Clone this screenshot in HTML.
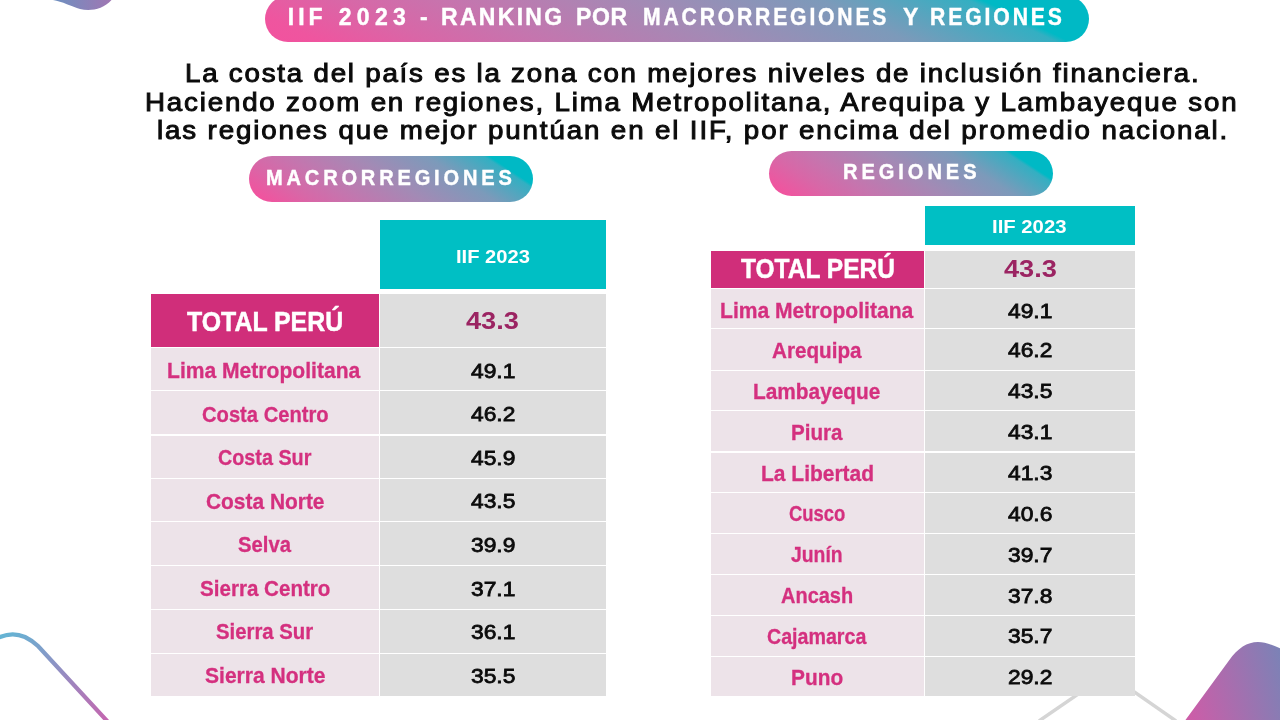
<!DOCTYPE html>
<html lang="es"><head><meta charset="utf-8"><title>IIF 2023 - Ranking por macrorregiones y regiones</title>
<style>
html,body{margin:0;padding:0;background:#fff}
body{width:1280px;height:720px;position:relative;overflow:hidden;font-family:"Liberation Sans", sans-serif}
.t{position:absolute;white-space:nowrap;line-height:1;transform-origin:0 0;display:block}
.b{position:absolute}
.pill{position:absolute;border-radius:23px;background:linear-gradient(33.4deg,#F2529E 0%,#EF559F 6%,#D867A7 18%,#C575AE 30%,#A38AB5 50%,#7C9ABA 70%,#33AFC2 86%,#00B9C5 87.5%,#00B9C5 100%)}
svg{position:absolute;left:0;top:0}
</style></head><body>
<svg width="1280" height="720" viewBox="0 0 1280 720">
<defs>
<linearGradient id="g1" x1="0" y1="0" x2="1" y2="0"><stop offset="0" stop-color="#6D90C0"/><stop offset="1" stop-color="#A077B3"/></linearGradient>
<linearGradient id="g2" x1="0" y1="0" x2="1" y2="1"><stop offset="0" stop-color="#62B6D5"/><stop offset="1" stop-color="#C565AF"/></linearGradient>
<linearGradient id="g3" gradientUnits="userSpaceOnUse" x1="1190" y1="716" x2="1290" y2="688"><stop offset="0" stop-color="#CC5DA8"/><stop offset="1" stop-color="#7C82B6"/></linearGradient>
</defs>
<path d="M53,0 C62,1.5 72,6.5 80,9 C90,11.5 103,9.5 111.5,0 Z" fill="url(#g1)"/>
<path d="M-2,638 C6,634 16,633 25,637 C31,640 34,642 38,646 L108,722" fill="none" stroke="url(#g2)" stroke-width="4.2" stroke-linecap="round"/>
<path d="M1039,721 L1108,673.5 L1176,721" fill="none" stroke="#D5D5D5" stroke-width="3.4"/>
<path d="M1184,722 L1229,660.5 C1238,648 1247,642 1258,642 C1265,642 1272,645 1282,649 L1282,722 Z" fill="url(#g3)"/>
</svg>
<div class="pill" style="left:265px;top:-4.5px;width:823.75px;height:46px;background:linear-gradient(25.4deg,#F2529E 0%,#EF559F 6%,#D867A7 18%,#C575AE 30%,#A38AB5 50%,#7C9ABA 70%,#33AFC2 86%,#00B9C5 87.5%,#00B9C5 100%)"></div>
<div class="pill" style="left:249px;top:156.25px;width:284px;height:45.75px"></div>
<div class="pill" style="left:769.25px;top:150.75px;width:283.75px;height:45.5px"></div>
<div class="b" style="left:380px;top:220.3px;width:225.60px;height:68.70px;background:#00BFC4"></div>
<div class="b" style="left:151px;top:294.25px;width:228.20px;height:52.55px;background:#D02E7A"></div>
<div class="b" style="left:380px;top:294.25px;width:225.60px;height:52.55px;background:#DEDEDE"></div>
<div class="b" style="left:151px;top:347.8px;width:228.20px;height:42.10px;background:#EDE3E9"></div>
<div class="b" style="left:380px;top:347.8px;width:225.60px;height:42.10px;background:#DEDEDE"></div>
<div class="b" style="left:151px;top:390.9px;width:228.20px;height:43.60px;background:#EDE3E9"></div>
<div class="b" style="left:380px;top:390.9px;width:225.60px;height:43.60px;background:#DEDEDE"></div>
<div class="b" style="left:151px;top:435.5px;width:228.20px;height:42.30px;background:#EDE3E9"></div>
<div class="b" style="left:380px;top:435.5px;width:225.60px;height:42.30px;background:#DEDEDE"></div>
<div class="b" style="left:151px;top:478.8px;width:228.20px;height:42.50px;background:#EDE3E9"></div>
<div class="b" style="left:380px;top:478.8px;width:225.60px;height:42.50px;background:#DEDEDE"></div>
<div class="b" style="left:151px;top:522.3px;width:228.20px;height:42.60px;background:#EDE3E9"></div>
<div class="b" style="left:380px;top:522.3px;width:225.60px;height:42.60px;background:#DEDEDE"></div>
<div class="b" style="left:151px;top:565.9px;width:228.20px;height:43.30px;background:#EDE3E9"></div>
<div class="b" style="left:380px;top:565.9px;width:225.60px;height:43.30px;background:#DEDEDE"></div>
<div class="b" style="left:151px;top:610.2px;width:228.20px;height:42.60px;background:#EDE3E9"></div>
<div class="b" style="left:380px;top:610.2px;width:225.60px;height:42.60px;background:#DEDEDE"></div>
<div class="b" style="left:151px;top:653.8px;width:228.20px;height:42.30px;background:#EDE3E9"></div>
<div class="b" style="left:380px;top:653.8px;width:225.60px;height:42.30px;background:#DEDEDE"></div>
<div class="b" style="left:925px;top:206.25px;width:210.00px;height:38.35px;background:#00BFC4"></div>
<div class="b" style="left:710.5px;top:250.7px;width:213.40px;height:37.20px;background:#D02E7A"></div>
<div class="b" style="left:925px;top:250.7px;width:210.00px;height:37.20px;background:#DEDEDE"></div>
<div class="b" style="left:710.5px;top:288.9px;width:213.40px;height:39.30px;background:#EDE3E9"></div>
<div class="b" style="left:925px;top:288.9px;width:210.00px;height:39.30px;background:#DEDEDE"></div>
<div class="b" style="left:710.5px;top:329.2px;width:213.40px;height:40.70px;background:#EDE3E9"></div>
<div class="b" style="left:925px;top:329.2px;width:210.00px;height:40.70px;background:#DEDEDE"></div>
<div class="b" style="left:710.5px;top:370.9px;width:213.40px;height:39.40px;background:#EDE3E9"></div>
<div class="b" style="left:925px;top:370.9px;width:210.00px;height:39.40px;background:#DEDEDE"></div>
<div class="b" style="left:710.5px;top:411.3px;width:213.40px;height:40.20px;background:#EDE3E9"></div>
<div class="b" style="left:925px;top:411.3px;width:210.00px;height:40.20px;background:#DEDEDE"></div>
<div class="b" style="left:710.5px;top:452.5px;width:213.40px;height:39.50px;background:#EDE3E9"></div>
<div class="b" style="left:925px;top:452.5px;width:210.00px;height:39.50px;background:#DEDEDE"></div>
<div class="b" style="left:710.5px;top:493.0px;width:213.40px;height:39.50px;background:#EDE3E9"></div>
<div class="b" style="left:925px;top:493.0px;width:210.00px;height:39.50px;background:#DEDEDE"></div>
<div class="b" style="left:710.5px;top:533.5px;width:213.40px;height:40.50px;background:#EDE3E9"></div>
<div class="b" style="left:925px;top:533.5px;width:210.00px;height:40.50px;background:#DEDEDE"></div>
<div class="b" style="left:710.5px;top:575.0px;width:213.40px;height:39.50px;background:#EDE3E9"></div>
<div class="b" style="left:925px;top:575.0px;width:210.00px;height:39.50px;background:#DEDEDE"></div>
<div class="b" style="left:710.5px;top:615.5px;width:213.40px;height:40.20px;background:#EDE3E9"></div>
<div class="b" style="left:925px;top:615.5px;width:210.00px;height:40.20px;background:#DEDEDE"></div>
<div class="b" style="left:710.5px;top:656.7px;width:213.40px;height:39.10px;background:#EDE3E9"></div>
<div class="b" style="left:925px;top:656.7px;width:210.00px;height:39.10px;background:#DEDEDE"></div>
<span class="t" style="left:287.75px;top:5.73px;font-size:23px;font-weight:700;color:#fff;transform:scaleX(1.0000);letter-spacing:3.985px;-webkit-text-stroke:0.4px #fff;">IIF</span>
<span class="t" style="left:338.75px;top:5.73px;font-size:23px;font-weight:700;color:#fff;transform:scaleX(1.0000);letter-spacing:5.292px;-webkit-text-stroke:0.4px #fff;">2023</span>
<span class="t" style="left:420.00px;top:5.73px;font-size:23px;font-weight:700;color:#fff;transform:scaleX(1.0000);-webkit-text-stroke:0.4px #fff;">-</span>
<span class="t" style="left:441.00px;top:5.73px;font-size:23px;font-weight:700;color:#fff;transform:scaleX(1.0000);letter-spacing:2.302px;-webkit-text-stroke:0.4px #fff;">RANKING</span>
<span class="t" style="left:576.00px;top:5.73px;font-size:23px;font-weight:700;color:#fff;transform:scaleX(1.0000);letter-spacing:0.635px;-webkit-text-stroke:0.4px #fff;">POR</span>
<span class="t" style="left:642.83px;top:5.73px;font-size:23px;font-weight:700;color:#fff;transform:scaleX(0.9200);letter-spacing:3.058px;-webkit-text-stroke:0.4px #fff;">MACRORREGIONES</span>
<span class="t" style="left:903.12px;top:5.73px;font-size:23px;font-weight:700;color:#fff;transform:scaleX(1.0000);-webkit-text-stroke:0.4px #fff;">Y</span>
<span class="t" style="left:930.33px;top:5.73px;font-size:23px;font-weight:700;color:#fff;transform:scaleX(0.9200);letter-spacing:3.150px;-webkit-text-stroke:0.4px #fff;">REGIONES</span>
<span class="t" style="left:184.80px;top:61.12px;font-size:25.2px;font-weight:400;color:#0b0b0b;transform:scaleX(1.1000);letter-spacing:1.617px;-webkit-text-stroke:0.95px #0b0b0b;">La costa del país es la zona con mejores niveles de inclusión financiera.</span>
<span class="t" style="left:144.80px;top:89.87px;font-size:25.2px;font-weight:400;color:#0b0b0b;transform:scaleX(1.1000);letter-spacing:1.651px;-webkit-text-stroke:0.95px #0b0b0b;">Haciendo zoom en regiones, Lima Metropolitana, Arequipa y Lambayeque son</span>
<span class="t" style="left:156.90px;top:118.12px;font-size:25.2px;font-weight:400;color:#0b0b0b;transform:scaleX(1.1000);letter-spacing:1.701px;-webkit-text-stroke:0.95px #0b0b0b;">las regiones que mejor puntúan en el IIF, por encima del promedio nacional.</span>
<span class="t" style="left:266.12px;top:166.20px;font-size:22.8px;font-weight:700;color:#fff;transform:scaleX(0.8800);letter-spacing:4.340px;-webkit-text-stroke:0.45px #fff;">MACRORREGIONES</span>
<span class="t" style="left:842.87px;top:160.40px;font-size:22.8px;font-weight:700;color:#fff;transform:scaleX(0.8800);letter-spacing:4.490px;-webkit-text-stroke:0.45px #fff;">REGIONES</span>
<span class="t" style="left:455.67px;top:247.96px;font-size:18.6px;font-weight:700;color:#fff;transform:scaleX(1.0841);">IIF 2023</span>
<span class="t" style="left:186.70px;top:306.54px;font-size:28.3px;font-weight:700;color:#fff;transform:scaleX(0.8787);-webkit-text-stroke:0.5px #fff;">TOTAL PERÚ</span>
<span class="t" style="left:466.25px;top:309.13px;font-size:24px;font-weight:700;color:#9B2462;transform:scaleX(1.1324);">43.3</span>
<span class="t" style="left:992.16px;top:218.26px;font-size:18.6px;font-weight:700;color:#fff;transform:scaleX(1.0915);">IIF 2023</span>
<span class="t" style="left:741.25px;top:255.20px;font-size:28px;font-weight:700;color:#fff;transform:scaleX(0.8753);-webkit-text-stroke:0.5px #fff;">TOTAL PERÚ</span>
<span class="t" style="left:1003.75px;top:257.48px;font-size:24px;font-weight:700;color:#9B2462;transform:scaleX(1.1324);">43.3</span>
<span class="t" style="left:167.34px;top:360.08px;font-size:22px;font-weight:700;color:#D4307F;transform:scaleX(0.9581);-webkit-text-stroke:0.3px #D4307F;">Lima Metropolitana</span>
<span class="t" style="left:470.80px;top:359.82px;font-size:21px;font-weight:400;color:#0b0b0b;transform:scaleX(1.0850);-webkit-text-stroke:0.8px #0b0b0b;">49.1</span>
<span class="t" style="left:201.68px;top:403.62px;font-size:22px;font-weight:700;color:#D4307F;transform:scaleX(0.9170);-webkit-text-stroke:0.3px #D4307F;">Costa Centro</span>
<span class="t" style="left:470.80px;top:403.36px;font-size:21px;font-weight:400;color:#0b0b0b;transform:scaleX(1.0850);-webkit-text-stroke:0.8px #0b0b0b;">46.2</span>
<span class="t" style="left:217.93px;top:447.16px;font-size:22px;font-weight:700;color:#D4307F;transform:scaleX(0.8984);-webkit-text-stroke:0.3px #D4307F;">Costa Sur</span>
<span class="t" style="left:470.80px;top:446.90px;font-size:21px;font-weight:400;color:#0b0b0b;transform:scaleX(1.0850);-webkit-text-stroke:0.8px #0b0b0b;">45.9</span>
<span class="t" style="left:205.68px;top:490.70px;font-size:22px;font-weight:700;color:#D4307F;transform:scaleX(0.9502);-webkit-text-stroke:0.3px #D4307F;">Costa Norte</span>
<span class="t" style="left:470.80px;top:490.44px;font-size:21px;font-weight:400;color:#0b0b0b;transform:scaleX(1.0850);-webkit-text-stroke:0.8px #0b0b0b;">43.5</span>
<span class="t" style="left:238.00px;top:534.24px;font-size:22px;font-weight:700;color:#D4307F;transform:scaleX(0.9201);-webkit-text-stroke:0.3px #D4307F;">Selva</span>
<span class="t" style="left:470.80px;top:533.98px;font-size:21px;font-weight:400;color:#0b0b0b;transform:scaleX(1.0850);-webkit-text-stroke:0.8px #0b0b0b;">39.9</span>
<span class="t" style="left:199.80px;top:577.78px;font-size:22px;font-weight:700;color:#D4307F;transform:scaleX(0.9356);-webkit-text-stroke:0.3px #D4307F;">Sierra Centro</span>
<span class="t" style="left:470.80px;top:577.52px;font-size:21px;font-weight:400;color:#0b0b0b;transform:scaleX(1.0850);-webkit-text-stroke:0.8px #0b0b0b;">37.1</span>
<span class="t" style="left:216.05px;top:621.32px;font-size:22px;font-weight:700;color:#D4307F;transform:scaleX(0.9233);-webkit-text-stroke:0.3px #D4307F;">Sierra Sur</span>
<span class="t" style="left:470.80px;top:621.06px;font-size:21px;font-weight:400;color:#0b0b0b;transform:scaleX(1.0850);-webkit-text-stroke:0.8px #0b0b0b;">36.1</span>
<span class="t" style="left:204.65px;top:664.86px;font-size:22px;font-weight:700;color:#D4307F;transform:scaleX(0.9570);-webkit-text-stroke:0.3px #D4307F;">Sierra Norte</span>
<span class="t" style="left:470.80px;top:664.60px;font-size:21px;font-weight:400;color:#0b0b0b;transform:scaleX(1.0850);-webkit-text-stroke:0.8px #0b0b0b;">35.5</span>
<span class="t" style="left:719.64px;top:300.08px;font-size:22px;font-weight:700;color:#D4307F;transform:scaleX(0.9581);-webkit-text-stroke:0.3px #D4307F;">Lima Metropolitana</span>
<span class="t" style="left:1008.20px;top:299.72px;font-size:21px;font-weight:400;color:#0b0b0b;transform:scaleX(1.0850);-webkit-text-stroke:0.8px #0b0b0b;">49.1</span>
<span class="t" style="left:771.98px;top:339.68px;font-size:22px;font-weight:700;color:#D4307F;transform:scaleX(0.9390);-webkit-text-stroke:0.3px #D4307F;">Arequipa</span>
<span class="t" style="left:1008.20px;top:339.32px;font-size:21px;font-weight:400;color:#0b0b0b;transform:scaleX(1.0850);-webkit-text-stroke:0.8px #0b0b0b;">46.2</span>
<span class="t" style="left:753.03px;top:380.83px;font-size:22px;font-weight:700;color:#D4307F;transform:scaleX(0.9474);-webkit-text-stroke:0.3px #D4307F;">Lambayeque</span>
<span class="t" style="left:1008.20px;top:380.47px;font-size:21px;font-weight:400;color:#0b0b0b;transform:scaleX(1.0850);-webkit-text-stroke:0.8px #0b0b0b;">43.5</span>
<span class="t" style="left:790.54px;top:421.58px;font-size:22px;font-weight:700;color:#D4307F;transform:scaleX(0.9355);-webkit-text-stroke:0.3px #D4307F;">Piura</span>
<span class="t" style="left:1008.20px;top:421.22px;font-size:21px;font-weight:400;color:#0b0b0b;transform:scaleX(1.0850);-webkit-text-stroke:0.8px #0b0b0b;">43.1</span>
<span class="t" style="left:760.77px;top:462.58px;font-size:22px;font-weight:700;color:#D4307F;transform:scaleX(0.9536);-webkit-text-stroke:0.3px #D4307F;">La Libertad</span>
<span class="t" style="left:1008.20px;top:462.22px;font-size:21px;font-weight:400;color:#0b0b0b;transform:scaleX(1.0850);-webkit-text-stroke:0.8px #0b0b0b;">41.3</span>
<span class="t" style="left:789.10px;top:502.98px;font-size:22px;font-weight:700;color:#D4307F;transform:scaleX(0.8384);-webkit-text-stroke:0.3px #D4307F;">Cusco</span>
<span class="t" style="left:1008.20px;top:502.62px;font-size:21px;font-weight:400;color:#0b0b0b;transform:scaleX(1.0850);-webkit-text-stroke:0.8px #0b0b0b;">40.6</span>
<span class="t" style="left:791.48px;top:544.18px;font-size:22px;font-weight:700;color:#D4307F;transform:scaleX(0.8802);-webkit-text-stroke:0.3px #D4307F;">Junín</span>
<span class="t" style="left:1008.20px;top:543.82px;font-size:21px;font-weight:400;color:#0b0b0b;transform:scaleX(1.0850);-webkit-text-stroke:0.8px #0b0b0b;">39.7</span>
<span class="t" style="left:781.23px;top:585.33px;font-size:22px;font-weight:700;color:#D4307F;transform:scaleX(0.9079);-webkit-text-stroke:0.3px #D4307F;">Ancash</span>
<span class="t" style="left:1008.20px;top:584.97px;font-size:21px;font-weight:400;color:#0b0b0b;transform:scaleX(1.0850);-webkit-text-stroke:0.8px #0b0b0b;">37.8</span>
<span class="t" style="left:767.10px;top:625.83px;font-size:22px;font-weight:700;color:#D4307F;transform:scaleX(0.8923);-webkit-text-stroke:0.3px #D4307F;">Cajamarca</span>
<span class="t" style="left:1008.20px;top:625.47px;font-size:21px;font-weight:400;color:#0b0b0b;transform:scaleX(1.0850);-webkit-text-stroke:0.8px #0b0b0b;">35.7</span>
<span class="t" style="left:790.78px;top:666.58px;font-size:22px;font-weight:700;color:#D4307F;transform:scaleX(0.9477);-webkit-text-stroke:0.3px #D4307F;">Puno</span>
<span class="t" style="left:1007.65px;top:666.22px;font-size:21px;font-weight:400;color:#0b0b0b;transform:scaleX(1.0850);-webkit-text-stroke:0.8px #0b0b0b;">29.2</span>
</body></html>
